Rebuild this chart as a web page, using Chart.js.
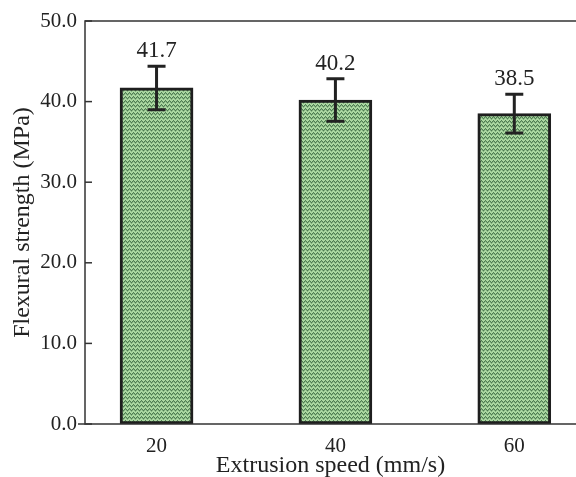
<!DOCTYPE html>
<html><head><meta charset="utf-8">
<script src="https://cdn.jsdelivr.net/npm/chart.js@4.4.0/dist/chart.umd.min.js"></script>
<style>html,body{margin:0;padding:0;background:#fff}#wrap{width:576px;height:477px}</style>
</head><body><div id="wrap"><canvas id="c" width="576" height="477"></canvas></div>
<script>
const categories = [20, 40, 60];
const strength = [41.7, 40.2, 38.5];
const errors = [2.7, 2.65, 2.4];
const yTicks = [0, 10, 20, 30, 40, 50];

function makePattern() {
  const p = document.createElement('canvas');
  p.width = 4; p.height = 4;
  const g = p.getContext('2d');
  g.fillStyle = '#acd9a2';
  g.fillRect(0, 0, 4, 4);
  const h = [1, 0, 1, 2];
  for (let x = 0; x < 4; x++) {
    g.fillStyle = '#4f7e52';
    g.fillRect(x, h[x], 1, 1);
    g.fillStyle = '#80ad7c';
    g.fillRect(x, h[x] + 1, 1, 1);
  }
  return document.getElementById('c').getContext('2d').createPattern(p, 'repeat');
}

const FONT = "'Liberation Serif', 'Times New Roman', serif";

const decor = {
  id: 'decor',
  afterDatasetsDraw(chart) {
    const {ctx, chartArea: a, scales: {x, y}} = chart;
    ctx.save();
    ctx.strokeStyle = '#222';
    ctx.lineWidth = 3;
    categories.forEach((c, i) => {
      const px = x.getPixelForValue(c);
      const top = y.getPixelForValue(strength[i] + errors[i]);
      const bot = y.getPixelForValue(strength[i] - errors[i]);
      ctx.beginPath();
      ctx.moveTo(px, top); ctx.lineTo(px, bot);
      ctx.moveTo(px - 9, top); ctx.lineTo(px + 9, top);
      ctx.moveTo(px - 9, bot); ctx.lineTo(px + 9, bot);
      ctx.stroke();
      ctx.fillStyle = '#222';
      ctx.font = '23px ' + FONT;
      ctx.textAlign = 'center';
      ctx.textBaseline = 'alphabetic';
      ctx.fillText(strength[i].toFixed(1), px, top - 9);
    });
    ctx.strokeStyle = '#333';
    ctx.lineWidth = 1.5;
    ctx.beginPath();
    ctx.moveTo(a.right + 2, a.top); ctx.lineTo(a.left, a.top);
    ctx.lineTo(a.left, a.bottom); ctx.lineTo(a.right + 2, a.bottom);
    ctx.stroke();
    yTicks.forEach(v => {
      const py = y.getPixelForValue(v);
      ctx.beginPath();
      ctx.moveTo(a.left - (v === 0 ? 7 : 0), py); ctx.lineTo(a.left + 7, py);
      ctx.stroke();
    });
    ctx.restore();
  }
};

new Chart(document.getElementById('c'), {
  type: 'bar',
  data: {
    datasets: [{
      data: categories.map((c, i) => ({x: c, y: strength[i]})),
      backgroundColor: makePattern(),
      borderColor: '#1e1e1e',
      borderWidth: 3,
      borderSkipped: false,
      barThickness: 73
    }]
  },
  options: {
    responsive: false,
    animation: false,
    layout: {padding: {top: 21, right: 0, left: 0, bottom: 0}},
    plugins: {legend: {display: false}, tooltip: {enabled: false}},
    scales: {
      x: {
        type: 'linear', min: 12, max: 66.9, offset: false,
        afterBuildTicks: s => { s.ticks = categories.map(v => ({value: v})); },
        afterFit: s => { s.height = 53; },
        grid: {display: false, drawTicks: false, offset: false},
        border: {display: false},
        ticks: {padding: 10, color: '#222', font: {family: FONT, size: 21}, callback: v => String(v)},
        title: {display: true, text: 'Extrusion speed (mm/s)', color: '#222', font: {family: FONT, size: 24, lineHeight: 0.9}, padding: {top: 0, bottom: 0}}
      },
      y: {
        min: 0, max: 50,
        afterBuildTicks: s => { s.ticks = yTicks.map(v => ({value: v})); },
        afterFit: s => { s.width = 85; },
        grid: {display: false, drawTicks: false},
        border: {display: false},
        ticks: {padding: 8, color: '#222', font: {family: FONT, size: 21}, callback: v => v.toFixed(1)},
        title: {display: true, text: 'Flexural strength (MPa)', color: '#222', font: {family: FONT, size: 24, lineHeight: 1.0}, padding: {top: 11, bottom: 0}}
      }
    }
  },
  plugins: [decor]
});
</script>
</body></html>
